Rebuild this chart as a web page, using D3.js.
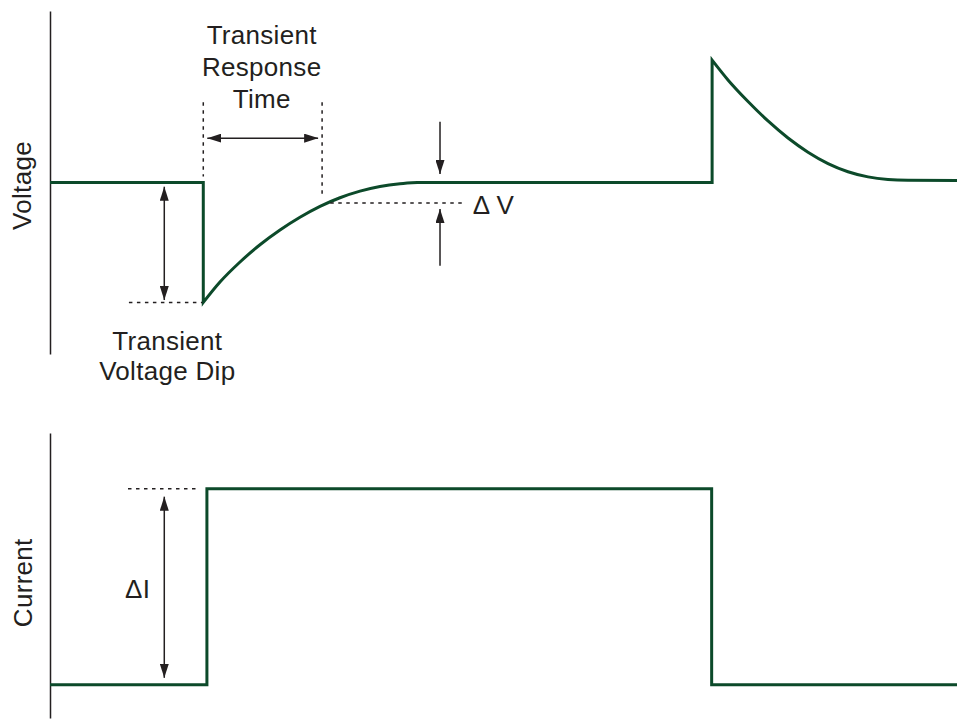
<!DOCTYPE html>
<meta charset="utf-8">
<style>
body { margin: 0; background: #fff; }
text {
  font: 26px "Liberation Sans", Arial, sans-serif;
  letter-spacing: 0.3px;
  fill: #231f20;
}
</style>
<svg width="957" height="719"></svg>
<script src="https://d3js.org/d3.v7.min.js"></script>
<script>

// time runs 0..100 (arbitrary units), voltage in V, current in A
// points

var vBefore   = [[0, 5], [16.9, 5], [16.9, 4.0]];
var vRecovery = [[16.9, 4.0], [18.74, 4.17], [20.95, 4.337], [23.15, 4.481], [25.36, 4.604], [27.56, 4.710],
                 [29.77, 4.801], [31.97, 4.873], [34.18, 4.928], [36.38, 4.967], [38.59, 4.990], [40.5, 5]];
var vHold     = [[40.5, 5], [73.0, 5], [73.0, 6.02]];
var vDecay    = [[73.0, 6.02], [74.75, 5.855], [76.96, 5.675], [79.16, 5.513], [81.37, 5.371], [83.57, 5.253],
                 [85.78, 5.158], [87.98, 5.090], [90.19, 5.047], [92.39, 5.025], [94.6, 5.018], [100, 5.016]];

var iSteps    = [[0, 1], [17.3, 1], [17.3, 3], [72.95, 3], [72.95, 1], [100, 1]];

// annotation values (same units)
var respWindow  = [16.9, 30.0];   // transient response time
var respTop     = 5.67;
var respArrowV  = 5.37;
var dipLevel    = 4.0;
var dipArrowT   = 12.6;
var settleBand  = 4.83;           // nominal - deltaV
var dvArrowT    = 43.0;
var iArrowT     = 12.6;

var respLabel = ["Transient", "Response", "Time"];
var dipLabel  = ["Transient", "Voltage Dip"];

var svg = d3.select("svg");
var ink = "#231f20", green = "#0c4a2a";

var x  = d3.scaleLinear().domain([0, 100]).range([50, 957]);
var yV = d3.scaleLinear().domain([3.57, 6.43]).range([354, 11]);
var yI = d3.scaleLinear().domain([0.66, 3.57]).range([718, 433]);

// arrow head
svg.append("defs").append("marker")
    .attr("id", "head")
    .attr("markerUnits", "userSpaceOnUse")
    .attr("viewBox", "0 0 14 9")
    .attr("markerWidth", 14).attr("markerHeight", 9)
    .attr("refX", 14).attr("refY", 4.5)
    .attr("orient", "auto-start-reverse")
  .append("path")
    .attr("d", "M0,0L14,4.5L0,9z")
    .attr("fill", ink);

// axes (no ticks, just the spine)
[yV, yI].forEach(function(s) {
  var a = svg.append("g")
      .attr("transform", "translate(" + x(0) + ",0)")
      .call(d3.axisLeft(s).ticks(0).tickSizeOuter(0));
  a.select(".domain").attr("stroke", ink).attr("stroke-width", 1.5);
});

svg.append("text")
    .attr("transform", "translate(31," + (yV(5) + 3) + ") rotate(-90)")
    .attr("text-anchor", "middle")
    .text("Voltage");
svg.append("text")
    .attr("transform", "translate(32," + (yI(2) - 4) + ") rotate(-90)")
    .attr("text-anchor", "middle")
    .text("Current");

// voltage trace: join linear and smooth pieces in one path
var lineV = d3.line().x(function(d) { return x(d[0]); }).y(function(d) { return yV(d[1]); });
var smoothV = d3.line().x(function(d) { return x(d[0]); }).y(function(d) { return yV(d[1]); })
    .curve(d3.curveMonotoneX);

var dV = lineV(vBefore)
    + smoothV(vRecovery).replace(/^M/, "L")
    + lineV(vHold).replace(/^M/, "L")
    + smoothV(vDecay).replace(/^M/, "L");

svg.append("path")
    .attr("d", dV)
    .attr("fill", "none")
    .attr("stroke", green)
    .attr("stroke-width", 3)
    .attr("stroke-linejoin", "miter");

var lineI = d3.line().x(function(d) { return x(d[0]); }).y(function(d) { return yI(d[1]); });
svg.append("path")
    .attr("d", lineI(iSteps))
    .attr("fill", "none")
    .attr("stroke", green)
    .attr("stroke-width", 3)
    .attr("stroke-linejoin", "miter");

// helpers
function dotted(x1, y1, x2, y2) {
  svg.append("line")
      .attr("x1", x1).attr("y1", y1).attr("x2", x2).attr("y2", y2)
      .attr("stroke", ink).attr("stroke-width", 1.5)
      .attr("stroke-dasharray", "3.5,4.5");
}
function arrow(x1, y1, x2, y2, both) {
  var l = svg.append("line")
      .attr("x1", x1).attr("y1", y1).attr("x2", x2).attr("y2", y2)
      .attr("stroke", ink).attr("stroke-width", 1.5)
      .attr("marker-end", "url(#head)");
  if (both) l.attr("marker-start", "url(#head)");
}

// transient response time
dotted(x(respWindow[0]), yV(respTop), x(respWindow[0]), yV(5.05));
dotted(x(respWindow[1]), yV(respTop), x(respWindow[1]), yV(4.88));
arrow(x(respWindow[0]) + 4, yV(respArrowV), x(respWindow[1]) - 4, yV(respArrowV), true);

var rMid = x((respWindow[0] + respWindow[1]) / 2) - 1;
respLabel.forEach(function(t, i) {
  svg.append("text")
      .attr("x", rMid)
      .attr("y", yV(respTop) - 58 + i * 32)
      .attr("text-anchor", "middle")
      .text(t);
});

// transient voltage dip
dotted(x(8.7), yV(dipLevel), x(respWindow[0]) - 1, yV(dipLevel));
arrow(x(dipArrowT), yV(4.965), x(dipArrowT), yV(dipLevel + 0.02), true);
dipLabel.forEach(function(t, i) {
  svg.append("text")
      .attr("x", x(dipArrowT) + 3)
      .attr("y", yV(dipLevel) + 48 + i * 30)
      .attr("text-anchor", "middle")
      .text(t);
});

// delta V band
dotted(x(30.9), yV(settleBand), x(45.5), yV(settleBand));
arrow(x(dvArrowT), yV(5.507), x(dvArrowT), yV(5.07), false);
arrow(x(dvArrowT), yV(4.306), x(dvArrowT), yV(settleBand - 0.05), false);
svg.append("text")
    .attr("x", x(46.6))
    .attr("y", yV(settleBand) + 11)
    .text("\u0394 V");

// delta I
dotted(x(8.6), yI(3), x(16.5), yI(3));
arrow(x(iArrowT), yI(2.92), x(iArrowT), yI(1.07), true);
svg.append("text")
    .attr("x", x(iArrowT) - 14)
    .attr("y", (yI(2.92) + yI(1.07)) / 2 + 11)
    .attr("text-anchor", "end")
    .text("\u0394I");

</script>
